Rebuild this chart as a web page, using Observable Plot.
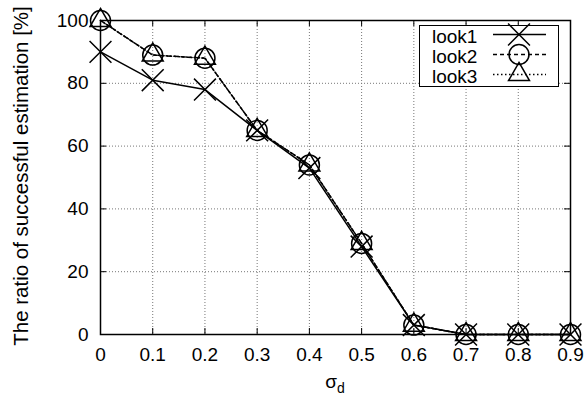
<!DOCTYPE html>
<html><head><meta charset="utf-8">
<script src="https://cdn.jsdelivr.net/npm/d3@7"></script>
<script src="https://cdn.jsdelivr.net/npm/@observablehq/plot@0.6"></script>
<style>
body{margin:0;background:#fff;}
#chart{position:relative;width:584px;height:395px;}
</style>
</head><body><div id="chart"></div>
<script>
const sigma = [0, 0.1, 0.2, 0.3, 0.4, 0.5, 0.6, 0.7, 0.8, 0.9];
const look1 = [90, 81, 78, 65, 53, 28, 3, 0, 0, 0];
const look2 = [100, 89, 88, 65, 54, 29, 3, 0, 0, 0];
const look3 = [100, 89, 88, 65, 54, 29, 3, 0, 0, 0];
const seriesNames = ["look1", "look2", "look3"];
const xTicks = [0, 0.1, 0.2, 0.3, 0.4, 0.5, 0.6, 0.7, 0.8, 0.9];
const yTicks = [0, 20, 40, 60, 80, 100];
const xLabelMain = "σ";
const xLabelSub = "d";
const yLabel = "The ratio of successful estimation [%]";

const W = 584, H = 395, mL = 100, mR = 14, mT = 20, mB = 61;
const plotW = W - mL - mR, plotH = H - mT - mB;
const FONT = "'Liberation Sans', Arial, Helvetica, sans-serif";
const FS = 19;

const values = [look1, look2, look3];
const rows = seriesNames.flatMap((s, i) => sigma.map((x, j) => ({series: s, x, y: values[i][j]})));
const styleOf = {
  look1: {dash: null, symbol: d3.symbolTimes, r: 10},
  look2: {dash: "4,3", symbol: d3.symbolCircle, r: 10},
  look3: {dash: "1.5,2.5", symbol: d3.symbolTriangle2, r: 10}
};

const seriesMarks = seriesNames.flatMap(s => {
  const data = rows.filter(d => d.series === s);
  const st = styleOf[s];
  return [
    Plot.line(data, {x: "x", y: "y", stroke: "black", strokeWidth: 1.5, strokeDasharray: st.dash}),
    Plot.dot(data, {x: "x", y: "y", symbol: () => st.symbol, r: st.r, stroke: "black", strokeWidth: 1.5, fill: "none"})
  ];
});

const innerX = xTicks.slice(1, -1), innerY = yTicks.slice(1, -1);
const gridStyle = {stroke: "#777", strokeOpacity: 1, strokeWidth: 1, strokeDasharray: "1,2"};

const chart = Plot.plot({
  width: W, height: H,
  marginLeft: mL, marginRight: mR, marginTop: mT, marginBottom: mB,
  style: {fontFamily: FONT, fontSize: FS + "px", background: "white", color: "black"},
  x: {domain: [0, 0.9]},
  y: {domain: [0, 100]},
  marks: [
    Plot.gridX(innerX, gridStyle),
    Plot.gridY(innerY, gridStyle),
    Plot.tickX(xTicks, {insetTop: plotH - 6, stroke: "black", strokeWidth: 1}),
    Plot.tickX(xTicks, {insetBottom: plotH - 6, stroke: "black", strokeWidth: 1}),
    Plot.tickY(yTicks, {insetRight: plotW - 6, stroke: "black", strokeWidth: 1}),
    Plot.tickY(yTicks, {insetLeft: plotW - 6, stroke: "black", strokeWidth: 1}),
    Plot.axisX(xTicks, {tickSize: 0, tickPadding: 13, tickFormat: d => String(d), label: null, fontSize: FS}),
    Plot.axisY(yTicks, {tickSize: 0, tickPadding: 12, tickFormat: d => String(d), label: null, fontSize: FS}),
    ...seriesMarks,
    Plot.frame({stroke: "black", strokeWidth: 1.5})
  ]
});
document.getElementById("chart").appendChild(chart);

const svg = d3.select(chart);
// axis titles
svg.append("text")
  .attr("transform", `translate(20,${mT + plotH / 2 - 1}) rotate(-90)`)
  .attr("text-anchor", "middle").attr("dominant-baseline", "central")
  .attr("font-family", FONT).attr("font-size", 20.5).attr("fill", "black")
  .text(yLabel);
const xl = svg.append("text")
  .attr("x", mL + plotW / 2).attr("y", 388)
  .attr("text-anchor", "middle")
  .attr("font-family", FONT).attr("font-size", FS).attr("fill", "black");
xl.append("tspan").text(xLabelMain);
xl.append("tspan").attr("dy", 5).attr("font-size", 14).text(xLabelSub);

// legend
const lg = svg.append("g").attr("font-family", FONT).attr("font-size", FS).attr("text-anchor", "start");
lg.append("rect").attr("x", 419.5).attr("y", 25.5).attr("width", 139).attr("height", 61)
  .attr("fill", "white").attr("stroke", "black").attr("stroke-width", 1);
seriesNames.forEach((s, i) => {
  const cy = 34.5 + 20 * i;
  const st = styleOf[s];
  lg.append("text").attr("x", 432).attr("y", 43 + 20 * i).attr("fill", "black")
    .attr("text-anchor", "start").text(s);
  lg.append("line").attr("x1", 493).attr("x2", 546).attr("y1", cy).attr("y2", cy)
    .attr("stroke", "black").attr("stroke-width", 1.5).attr("stroke-dasharray", st.dash);
  lg.append("path").attr("transform", `translate(519,${cy})`)
    .attr("d", d3.symbol(st.symbol, Math.PI * st.r * st.r)())
    .attr("fill", "none").attr("stroke", "black").attr("stroke-width", 1.5);
});
</script>
</body></html>
